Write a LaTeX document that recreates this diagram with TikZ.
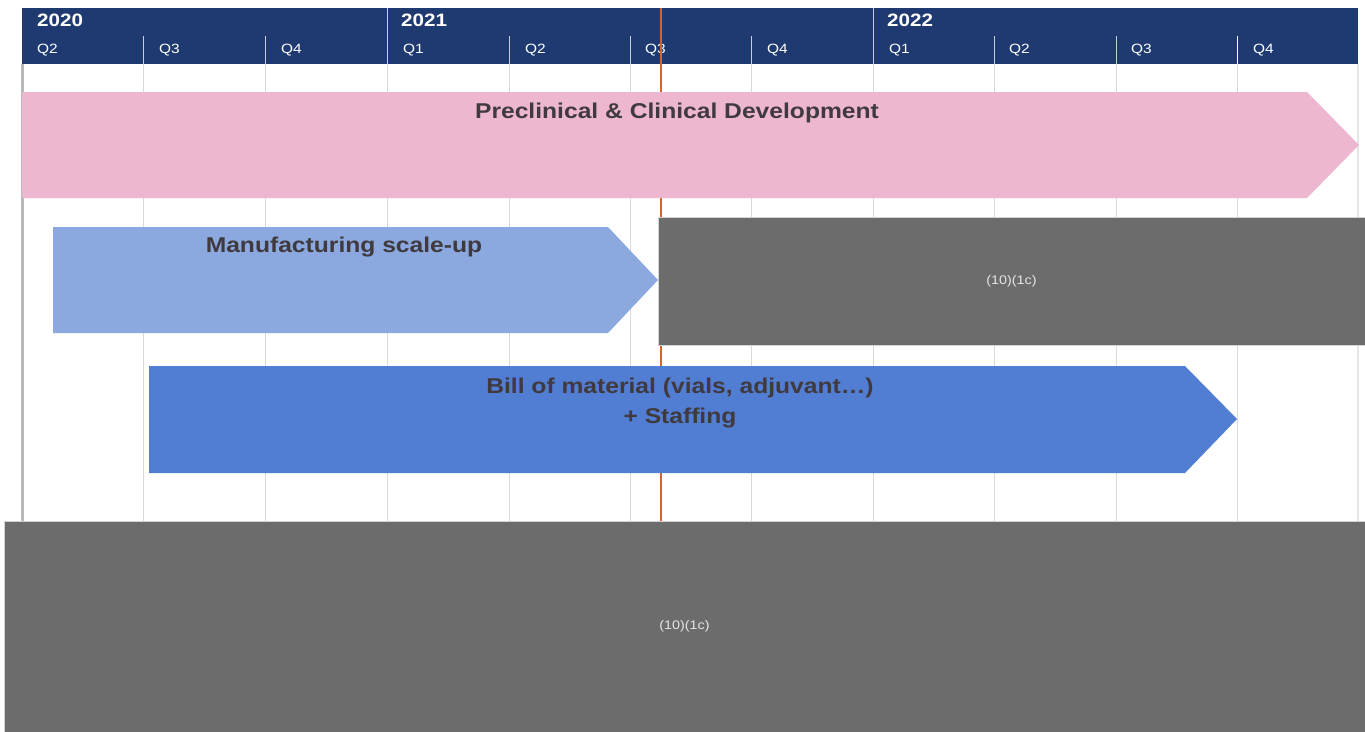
\documentclass[tikz,border=0pt]{standalone}
\usepackage{fontspec}
\setmainfont[FakeStretch=1.15]{Liberation Sans}
\usepackage{tikz}

\definecolor{navy}{HTML}{1F3A70}
\definecolor{pinkbar}{HTML}{EDB7D0}
\definecolor{lightbar}{HTML}{8BA8DF}
\definecolor{bluebar}{HTML}{517DD3}
\definecolor{maskgrey}{HTML}{6C6C6C}
\definecolor{lbltext}{HTML}{403A3E}
\definecolor{todayline}{HTML}{D9622B}

\tikzset{
  yearlbl/.style={anchor=base west,inner sep=0pt,text=white,font=\fontsize{18}{20}\selectfont\bfseries},
  qlbl/.style={anchor=base west,inner sep=0pt,text=white,font=\fontsize{13.5}{16}\selectfont},
  barlbl/.style={anchor=base,inner sep=0pt,text=lbltext,align=center,font=\fontsize{21.5}{30}\selectfont\bfseries},
  maskbox/.style={fill=maskgrey,draw=gray!35,line width=0.8bp,inner sep=0pt,text=gray!20,font=\fontsize{12.5}{14}\selectfont},
  gridln/.style={draw=gray!30,line width=0.8bp},
  hdrtick/.style={draw=white!75!navy,line width=1bp}
}

\begin{document}
\begin{tikzpicture}

\useasboundingbox[fill=white] (0bp,0bp) rectangle (1365bp,-732bp);

% quarter grid
\draw [gridln] (143bp,-64bp) -- (143bp,-521bp);
\draw [gridln] (265bp,-64bp) -- (265bp,-521bp);
\draw [gridln] (387bp,-64bp) -- (387bp,-521bp);
\draw [gridln] (509bp,-64bp) -- (509bp,-521bp);
\draw [gridln] (630bp,-64bp) -- (630bp,-521bp);
\draw [gridln] (751bp,-64bp) -- (751bp,-521bp);
\draw [gridln] (873bp,-64bp) -- (873bp,-521bp);
\draw [gridln] (994bp,-64bp) -- (994bp,-521bp);
\draw [gridln] (1116bp,-64bp) -- (1116bp,-521bp);
\draw [gridln] (1237bp,-64bp) -- (1237bp,-521bp);
\draw [gridln,line width=2bp,draw=gray!20] (1358bp,-64bp) -- (1358bp,-521bp);
\draw [line width=3bp,draw=gray!55] (22bp,-64bp) -- (22bp,-521bp);

% header
\fill [navy] (22bp,-8bp) rectangle (1358bp,-64bp);
\draw [hdrtick] (143bp,-36bp) -- (143bp,-64bp);
\draw [hdrtick] (265bp,-36bp) -- (265bp,-64bp);
\draw [hdrtick] (387bp,-8bp) -- (387bp,-64bp);
\draw [hdrtick] (509bp,-36bp) -- (509bp,-64bp);
\draw [hdrtick] (630bp,-36bp) -- (630bp,-64bp);
\draw [hdrtick] (751bp,-36bp) -- (751bp,-64bp);
\draw [hdrtick] (873bp,-8bp) -- (873bp,-64bp);
\draw [hdrtick] (994bp,-36bp) -- (994bp,-64bp);
\draw [hdrtick] (1116bp,-36bp) -- (1116bp,-64bp);
\draw [hdrtick,draw=white] (1237bp,-36bp) -- (1237bp,-64bp);

\node (Y2020) at (37bp,-26bp)[yearlbl] {2020};
\node (Y2021) at (401bp,-26bp)[yearlbl] {2021};
\node (Y2022) at (887bp,-26bp)[yearlbl] {2022};

\node (Q1) at (37bp,-53bp)[qlbl] {Q2};
\node (Q2) at (159bp,-53bp)[qlbl] {Q3};
\node (Q3) at (281bp,-53bp)[qlbl] {Q4};
\node (Q4) at (403bp,-53bp)[qlbl] {Q1};
\node (Q5) at (525bp,-53bp)[qlbl] {Q2};
\node (Q6) at (645bp,-53bp)[qlbl] {Q3};
\node (Q7) at (767bp,-53bp)[qlbl] {Q4};
\node (Q8) at (889bp,-53bp)[qlbl] {Q1};
\node (Q9) at (1009bp,-53bp)[qlbl] {Q2};
\node (Q10) at (1131bp,-53bp)[qlbl] {Q3};
\node (Q11) at (1253bp,-53bp)[qlbl] {Q4};

% today
\draw [todayline,line width=1.2bp] (661bp,-8bp) -- (661bp,-521bp);

% bars
\fill [pinkbar] (22bp,-92bp) -- (1307bp,-92bp) -- (1359bp,-145bp) -- (1307bp,-198bp) -- (22bp,-198bp) -- cycle;
\fill [lightbar] (53bp,-227bp) -- (608bp,-227bp) -- (658bp,-280bp) -- (608bp,-333bp) -- (53bp,-333bp) -- cycle;
\fill [bluebar] (149bp,-366bp) -- (1185bp,-366bp) -- (1237bp,-419bp) -- (1185bp,-473bp) -- (149bp,-473bp) -- cycle;

\node (Dev) at (677bp,-118bp)[barlbl] {Preclinical \& Clinical Development};
\node (Mfg) at (344bp,-252bp)[barlbl] {Manufacturing scale-up};
\node (Bom) at (680bp,-378bp)[barlbl,anchor=north] {Bill of material (vials, adjuvant…)\\+ Staffing};

% masked areas
\node (M1) at (1011.5bp,-281bp)[maskbox,minimum width=707bp,minimum height=128bp] {(10)(1c)};
\node (M2) at (684.5bp,-626.5bp)[maskbox,minimum width=1361bp,minimum height=211bp] {(10)(1c)};

\end{tikzpicture}
\end{document}
